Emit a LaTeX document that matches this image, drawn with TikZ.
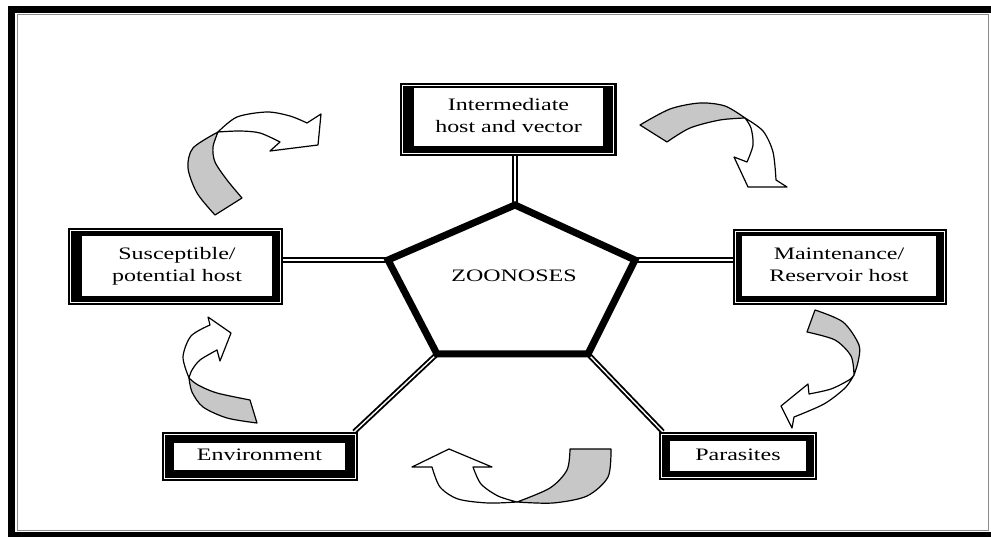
\documentclass[tikz,border=0pt]{standalone}
\usepackage{fontspec}
\setmainfont{Liberation Serif}
\usepackage{graphicx}
\usetikzlibrary{calc}
\pgfdeclarelayer{bg}
\pgfsetlayers{bg,main}
\newcommand\zt[1]{\scalebox{1.37}[1]{\begin{tabular}{@{}c@{}}#1\end{tabular}}}
\begin{document}
\begin{tikzpicture}[x=1pt,y=-1pt,
  obox/.style={fill=black, draw=none, inner sep=0pt},
  ibox/.style={fill=white, draw=none, inner sep=0pt, font=\fontsize{17.5}{22}\selectfont},
  ztext/.style={inner sep=0pt, font=\fontsize{17.5}{22}\selectfont},
  wline/.style={draw=white, line width=0.8pt},
  conn/.style={draw=black, double=white, line width=1.9pt, double distance=1.4pt},
  pent/.style={draw=black, line width=7pt, line join=miter},
  agray/.style={fill=black!22, draw=black, line width=1.2pt, line join=round},
  awhite/.style={fill=white, draw=black, line width=1.2pt, line join=round}]

\useasboundingbox (0,0) rectangle (991,537);

% outer frame
\draw[line width=7pt] (991,9.5) -- (11.5,9.5) -- (11.5,537);
\draw[line width=5pt] (8,534.5) -- (991,534.5);
\draw[black!45, line width=1pt] (17.5,14.5) rectangle (988,530);

% pentagon corners
\coordinate (p1) at (515,205);
\coordinate (p2) at (635,260);
\coordinate (p3) at (588,354);
\coordinate (p4) at (437,354);
\coordinate (p5) at (388,260);

% boxes
\node[obox, minimum width=217pt, minimum height=73pt] (int) at (508.5,119.5) {};
\draw[wline] ($(int.north west)+(3,2.5)$) rectangle ($(int.south east)+(-4,-3)$);
\node[ibox, minimum width=189pt, minimum height=58pt] (intT) at (508.5,117) {\zt{Intermediate\\host and vector}};

\node[obox, minimum width=215pt, minimum height=77pt] (sus) at (175.5,266.5) {};
\draw[wline] ($(sus.north west)+(3,3)$) rectangle ($(sus.south east)+(-3,-3)$);
\node[ibox, minimum width=190pt, minimum height=60pt] (susT) at (177,266) {\zt{Susceptible/\\potential host}};

\node[obox, minimum width=214pt, minimum height=76pt] (mai) at (840,267) {};
\draw[wline] ($(mai.north west)+(3,3)$) rectangle ($(mai.south east)+(-3,-3)$);
\node[ibox, minimum width=194pt, minimum height=60pt] (maiT) at (839,266) {\zt{Maintenance/\\Reservoir host}};

\node[obox, minimum width=196pt, minimum height=49pt] (env) at (260,456.5) {};
\draw[wline] ($(env.north west)+(3,3)$) rectangle ($(env.south east)+(-3,-3)$);
\node[ibox, minimum width=171pt, minimum height=27pt] (envT) at (259.5,456.5) {\zt{Environment}};

\node[obox, minimum width=158pt, minimum height=48pt] (par) at (738,456) {};
\draw[wline] ($(par.north west)+(3,3)$) rectangle ($(par.south east)+(-3,-3)$);
\node[ibox, minimum width=136pt, minimum height=30pt] (parT) at (738,456) {\zt{Parasites}};

% connectors
\begin{pgfonlayer}{bg}
\draw[conn] (p1) -- (p1 |- int.south);
\draw[conn] (p5) -- (p5 -| sus.east);
\draw[conn] (p2) -- (p2 -| mai.west);
\draw[conn] (p4) -- ($(env.north east)+(-4,0)$);
\draw[conn] (p3) -- ($(par.north west)+(4,0)$);
\end{pgfonlayer}

% pentagon
\draw[pent] (p1) -- (p2) -- (p3) -- (p4) -- (p5) -- cycle;
\node[ztext] (zoo) at (514,277) {\zt{ZOONOSES}};

% curved arrows
% top-left
\filldraw[agray] (215,215) -- plot[smooth] coordinates {(215,215) (197,193) (188,168) (193,148) (218,132)} -- plot[smooth] coordinates {(218,132) (213,147) (215,162) (227,180) (242,198)} -- cycle;
\filldraw[awhite] (218,132) -- plot[smooth] coordinates {(218,132) (237,117) (267,112) (290,116) (307,123)} -- (321,114) -- (318,145) -- (270,151) -- (280,142) -- plot[smooth] coordinates {(280,142) (260,133) (240,131) (218,132)} -- cycle;
% top-right
\filldraw[agray] (640,125) -- plot[smooth] coordinates {(640,125) (670,109) (700,103) (725,106) (745,118)} -- plot[smooth] coordinates {(745,118) (720,120) (690,128) (667,142)} -- cycle;
\filldraw[awhite] (745,118) -- plot[smooth] coordinates {(745,118) (763,131) (773,152) (776,180)} -- (787,187) -- (748,187) -- (734,157) -- (747,162) -- plot[smooth] coordinates {(747,162) (753,145) (751,128) (745,118)} -- cycle;
% right
\filldraw[agray] (815,310) -- plot[smooth] coordinates {(815,310) (843,322) (859,345) (858,362) (854,375)} -- plot[smooth] coordinates {(854,375) (851,356) (835,340) (807,332)} -- cycle;
\filldraw[awhite] (854,375) -- plot[smooth] coordinates {(854,375) (845,388) (824,404) (794,417)} -- (792,428) -- (781,406) -- (808,384) -- (809,394) -- plot[smooth] coordinates {(809,394) (831,389) (849,380) (854,375)} -- cycle;
% bottom
\filldraw[agray] (570,449) -- plot[smooth] coordinates {(570,449) (567,470) (550,488) (517,502)} -- plot[smooth] coordinates {(517,502) (553,503) (587,496) (608,477) (611,449)} -- cycle;
\filldraw[awhite] (517,502) -- plot[smooth] coordinates {(517,502) (488,503) (458,499) (440,487) (432,467)} -- (412,467) -- (449,449) -- (492,467) -- (473,467) -- plot[smooth] coordinates {(473,467) (481,484) (498,496) (517,502)} -- cycle;
% left
\filldraw[agray] (250,400) -- plot[smooth] coordinates {(250,400) (217,393) (198,385) (189,378)} -- plot[smooth] coordinates {(189,378) (192,392) (203,407) (227,418) (257,423)} -- cycle;
\filldraw[awhite] (189,378) -- plot[smooth] coordinates {(189,378) (183,357) (191,336) (210,325)} -- (208,317) -- (231,333) -- (220,361) -- (217,350) -- plot[smooth] coordinates {(217,350) (200,360) (192,370) (189,378)} -- cycle;
\end{tikzpicture}
\end{document}
